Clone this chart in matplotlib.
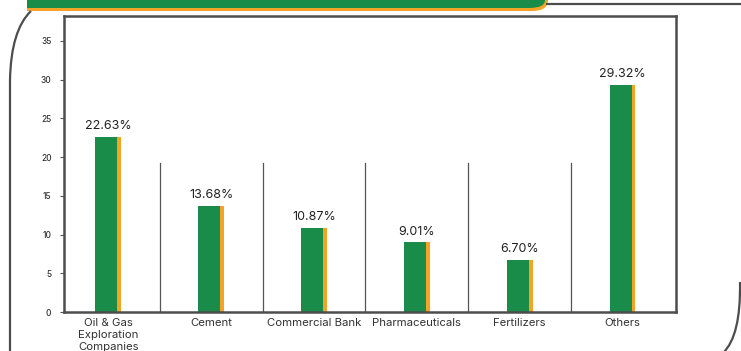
import matplotlib.pyplot as plt
from matplotlib.path import Path
from matplotlib.patches import PathPatch

# sector weights (%)
sectors = ["Oil & Gas\nExploration\nCompanies", "Cement", "Commercial Bank",
           "Pharmaceuticals", "Fertilizers", "Others"]
weights = [22.63, 13.68, 10.87, 9.01, 6.70, 29.32]
yticks = [0, 5, 10, 15, 20, 25, 30, 35]

GREEN = "#188c48"
ORANGE = "#f4a324"
FRAME = "#4d4d4d"

plt.rcParams["font.family"] = ["Inter", "DejaVu Sans"]

W, H = 741, 351
fig = plt.figure(figsize=(W / 100, H / 100), dpi=100)

# background layer in pixel coords for the banner and the rounded border
bg = fig.add_axes([0, 0, 1, 1], zorder=0)
bg.set_xlim(0, W)
bg.set_ylim(H, 0)
bg.axis("off")


def corner_shape(x0, x1, x_bot, y_bot):
    # strip hanging off the top edge with a rounded lower-right corner
    verts = [(x0, -5), (x1, -5), (x1, 0), (x1, y_bot), (x_bot, y_bot),
             (x0, y_bot), (x0, -5)]
    codes = [Path.MOVETO, Path.LINETO, Path.LINETO, Path.CURVE3, Path.CURVE3,
             Path.LINETO, Path.CLOSEPOLY]
    return Path(verts, codes)


bg.add_patch(PathPatch(corner_shape(27, 548, 532, 11), fc=ORANGE, ec="none"))
bg.add_patch(PathPatch(corner_shape(27, 545, 529, 8), fc=GREEN, ec="none"))
bg.plot([546, W], [4, 4], color=FRAME, lw=1.6, solid_capstyle="butt")

left = Path([(31, 11), (11, 30), (10, 80), (10, H + 5)],
            [Path.MOVETO, Path.CURVE3, Path.CURVE3, Path.LINETO])
right = Path([(740, 282), (741, 336), (723, H + 2)],
             [Path.MOVETO, Path.CURVE3, Path.CURVE3])
for p in (left, right):
    bg.add_patch(PathPatch(p, fc="none", ec=FRAME, lw=1.6))

# main chart
ax = fig.add_axes([64 / W, (H - 312) / H, 612 / W, 296 / H], zorder=1)
ax.set_facecolor("white")
x = list(range(len(sectors)))
green_w, orange_w = 0.214, 0.036
half = (green_w + orange_w) / 2
ax.bar([i - half for i in x], weights, width=green_w, align="edge",
       color=GREEN, zorder=2)
ax.bar([i - half + green_w for i in x], weights, width=orange_w, align="edge",
       color=ORANGE, zorder=2)

for i, v in zip(x, weights):
    ax.text(i, v + 0.6, f"{v:.2f}%", ha="center", va="bottom",
            fontsize=9, color="#222222")

# thin dividers between categories
for i in x[:-1]:
    ax.axvline(i + 0.5, ymin=0, ymax=0.503, color="#555555", lw=0.9, zorder=1)

ax.set_xlim(-0.43, 5.52)
ax.set_ylim(0, 38.2)
ax.set_yticks(yticks)
ax.set_xticks(x)
ax.set_xticklabels(sectors, fontsize=8.2, color="#333333", linespacing=1.3)
ax.tick_params(axis="x", length=0, pad=4)
ax.tick_params(axis="y", labelsize=6, length=3, width=0.8, color="#555555",
               labelcolor="#333333", pad=6)
for lbl in ax.get_yticklabels():
    lbl.set_fontweight("medium")
for s in ax.spines.values():
    s.set_color(FRAME)
    s.set_linewidth(1.8)

fig.savefig("out.png", dpi=100)
